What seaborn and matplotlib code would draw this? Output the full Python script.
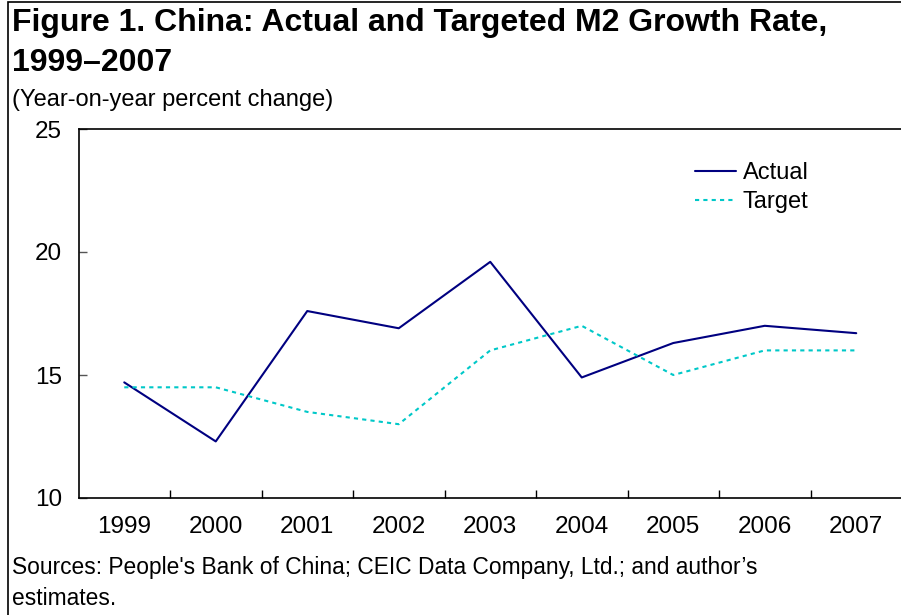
import numpy as np
import pandas as pd
import matplotlib
matplotlib.use('Agg')
import matplotlib.pyplot as plt
from matplotlib.patches import Rectangle
from matplotlib.lines import Line2D
import seaborn as sns

# Data
years = [1999, 2000, 2001, 2002, 2003, 2004, 2005, 2006, 2007]
actual = [14.7, 12.3, 17.6, 16.9, 19.6, 14.9, 16.3, 17.0, 16.7]
target = [14.5, 14.5, 13.5, 13.0, 16.0, 17.0, 15.0, 16.0, 16.0]
y_ticks = [10, 15, 20, 25]

TITLE = 'Figure 1. China: Actual and Targeted M2 Growth Rate,\n1999\u20132007'
SUBTITLE = '(Year-on-year percent change)'
SOURCE = "Sources: People's Bank of China; CEIC Data Company, Ltd.; and author\u2019s\nestimates."

sns.set_theme(style='white')
plt.rcParams['font.family'] = ['Liberation Sans', 'DejaVu Sans']
plt.rcParams['text.color'] = 'black'
plt.rcParams['xtick.color'] = 'black'
plt.rcParams['ytick.color'] = 'black'

df = pd.DataFrame({
    'Year': years * 2,
    'Value': actual + target,
    'Series': ['Actual'] * len(years) + ['Target'] * len(years),
})

fig = plt.figure(figsize=(9.01, 6.15), dpi=100)
ax = fig.add_axes([78.5 / 901, 1 - 498 / 615, (902 - 78.5) / 901, (498 - 129) / 615])

sns.lineplot(data=df, x='Year', y='Value', hue='Series', style='Series',
             palette={'Actual': '#000080', 'Target': '#00C8C8'},
             dashes={'Actual': '', 'Target': (2, 2)},
             linewidth=1.5, ax=ax, legend=False)

ax.set_xlim(years[0] - 0.5, years[-1] + 0.5)
ax.set_ylim(y_ticks[0], y_ticks[-1])
ax.set_yticks(y_ticks)
ax.set_xticks(years)
ax.set_xticks([y + 0.5 for y in years[:-1]], minor=True)
ax.tick_params(bottom=True, left=True, which='both')
ax.tick_params(axis='x', which='major', length=0, pad=13, labelsize=17.5, labelcolor='black')
ax.tick_params(axis='x', which='minor', length=6, width=1, direction='in', color='black')
ax.tick_params(axis='y', length=6, width=1, direction='in', color='#555555', pad=12,
               labelsize=17.5, labelcolor='black')
ax.set_xlabel('')
ax.set_ylabel('')
for side in ['left', 'top', 'bottom']:
    ax.spines[side].set_color('black')
    ax.spines[side].set_linewidth(1.2)
ax.spines['right'].set_visible(False)

# legend
handles = [Line2D([], [], color='#000080', lw=1.5),
           Line2D([], [], color='#00C8C8', lw=1.5, ls=(0, (2, 2)))]
ax.legend(handles, ['Actual', 'Target'], loc='upper left', frameon=False,
          bbox_to_anchor=(695 / 901, 1 - 162 / 615), bbox_transform=fig.transFigure,
          borderpad=0, borderaxespad=0, handlelength=1.75, handletextpad=0.28,
          labelspacing=0.3, fontsize=17)

fig.text(12 / 901, 1 - 8 / 615, TITLE, fontsize=23, fontweight='bold',
         va='top', ha='left', linespacing=1.43)
fig.text(12 / 901, 1 - 100 / 615, SUBTITLE, fontsize=17, va='center', ha='left')
fig.text(12 / 901, 1 - 556 / 615, SOURCE, fontsize=16.4, va='top', ha='left',
         linespacing=1.44)

fig.patches.append(Rectangle((8 / 901, -0.01), 1.0, 1 - 1.5 / 615 + 0.01,
                             transform=fig.transFigure, fill=False,
                             edgecolor='black', linewidth=1.2))

fig.savefig('out.png', dpi=100)
